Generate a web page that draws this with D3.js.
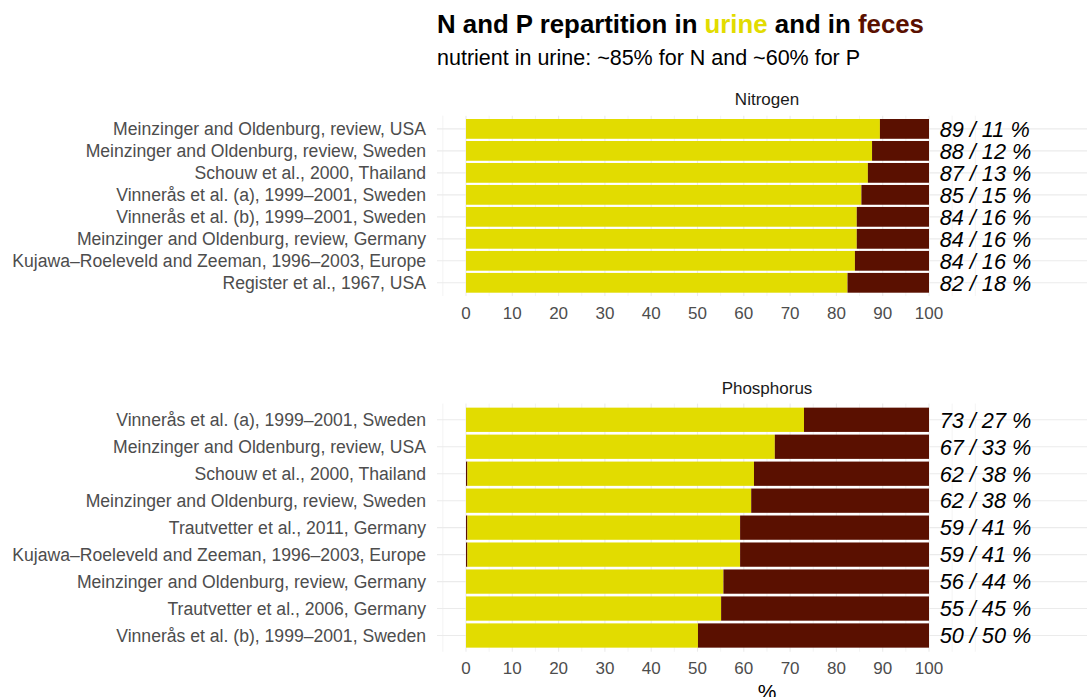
<!DOCTYPE html>
<html><head><meta charset="utf-8">
<script src="https://cdn.jsdelivr.net/npm/d3@7"></script>
<style>
body{margin:0;background:#fff;}
svg{display:block;font-family:"Liberation Sans",Arial,sans-serif;}
</style></head>
<body>
<svg id="chart" width="1087" height="697"></svg>
<script>
// ---- data ----
const nStudies = ["Meinzinger and Oldenburg, review, USA","Meinzinger and Oldenburg, review, Sweden","Schouw et al., 2000, Thailand","Vinnerås et al. (a), 1999–2001, Sweden","Vinnerås et al. (b), 1999–2001, Sweden","Meinzinger and Oldenburg, review, Germany","Kujawa–Roeleveld and Zeeman, 1996–2003, Europe","Register et al., 1967, USA"];
const nUrine = [89.4, 87.7, 86.8, 85.4, 84.4, 84.4, 84.0, 82.4];
const nOther = [0, 0, 0, 0, 0, 0, 0, 0];

const pStudies = ["Vinnerås et al. (a), 1999–2001, Sweden","Meinzinger and Oldenburg, review, USA","Schouw et al., 2000, Thailand","Meinzinger and Oldenburg, review, Sweden","Trautvetter et al., 2011, Germany","Kujawa–Roeleveld and Zeeman, 1996–2003, Europe","Meinzinger and Oldenburg, review, Germany","Trautvetter et al., 2006, Germany","Vinnerås et al. (b), 1999–2001, Sweden"];
const pUrine = [73.0, 66.7, 62.2, 61.6, 59.2, 59.2, 55.6, 55.1, 50.1];
const pOther = [0, 0, 0.3, 0, 0.3, 0.3, 0, 0, 0];

const xTicks = [0,10,20,30,40,50,60,70,80,90,100];
const xMinor = [-5,5,15,25,35,45,55,65,75,85,95,105,110];

const URINE = "#e2dc00", FECES = "#5a1000";

// ---- drawing ----
const svg = d3.select("#chart");
const x = d3.scaleLinear().domain([0,100]).range([466,929]);
const panelLeft = 437, panelRight = 1087;

// title
const t = svg.append("text").attr("x",437).attr("y",33).attr("font-size",25.8).attr("font-weight","bold").attr("fill","#000");
t.append("tspan").text("N and P repartition in ");
t.append("tspan").attr("fill",URINE).text("urine");
t.append("tspan").text(" and in ");
t.append("tspan").attr("fill",FECES).text("feces");
svg.append("text").attr("x",437).attr("y",65).attr("font-size",21.5).attr("fill","#000")
  .text("nutrient in urine: ~85% for N and ~60% for P");

function panel(name, studies, urine, other, top, bottom, stripY, tickY){
  const y = d3.scaleBand().domain(studies).range([top,bottom]).paddingInner(0.1).paddingOuter(0.15);
  const g = svg.append("g");
  g.selectAll("line.minor").data(xMinor).join("line")
    .attr("x1",d=>x(d)).attr("x2",d=>x(d)).attr("y1",top).attr("y2",bottom)
    .attr("stroke","#ebebeb").attr("stroke-width",0.6);
  g.selectAll("line.major").data(xTicks).join("line")
    .attr("x1",d=>x(d)).attr("x2",d=>x(d)).attr("y1",top).attr("y2",bottom)
    .attr("stroke","#ebebeb").attr("stroke-width",1.1);
  g.selectAll("line.hgrid").data(studies).join("line")
    .attr("x1",panelLeft).attr("x2",panelRight)
    .attr("y1",d=>y(d)+y.bandwidth()/2).attr("y2",d=>y(d)+y.bandwidth()/2)
    .attr("stroke","#ebebeb").attr("stroke-width",1.1);
  const rows = studies.map((s,i)=>({s, o:other[i], u:urine[i]}));
  const segs = [];
  rows.forEach(r=>{
    if (r.o>0) segs.push({s:r.s, a:0, b:r.o, c:FECES});
    segs.push({s:r.s, a:r.o, b:r.u, c:URINE});
    segs.push({s:r.s, a:r.u, b:100, c:FECES});
  });
  g.selectAll("rect").data(segs).join("rect")
    .attr("x",d=>x(d.a)).attr("width",d=>x(d.b)-x(d.a))
    .attr("y",d=>y(d.s)).attr("height",y.bandwidth()).attr("fill",d=>d.c);
  g.selectAll("text.val").data(rows).join("text")
    .attr("x",x(102.3)).attr("y",d=>y(d.s)+y.bandwidth()/2+7.8)
    .attr("font-size",21.7).attr("font-style","italic").attr("fill","#000")
    .text(d=>Math.round(d.u)+" / "+(100-Math.round(d.u))+" %");
  g.selectAll("text.cat").data(studies).join("text")
    .attr("x",426).attr("y",d=>y(d)+y.bandwidth()/2+6.2)
    .attr("text-anchor","end").attr("font-size",17.6).attr("fill","#4d4d4d").text(d=>d);
  g.selectAll("text.tick").data(xTicks).join("text")
    .attr("x",d=>x(d)).attr("y",tickY).attr("text-anchor","middle")
    .attr("font-size",17).attr("fill","#4d4d4d").text(d=>d);
  g.append("text").attr("x",767).attr("y",stripY).attr("text-anchor","middle")
    .attr("font-size",17).attr("fill","#1a1a1a").text(name);
}

panel("Nitrogen", nStudies, nUrine, nOther, 115.7, 296, 105, 319);
panel("Phosphorus", pStudies, pUrine, pOther, 403.6, 651.7, 394, 674);

svg.append("text").attr("x",767).attr("y",699).attr("text-anchor","middle")
  .attr("font-size",21).attr("fill","#000").text("%");
</script>
</body></html>
